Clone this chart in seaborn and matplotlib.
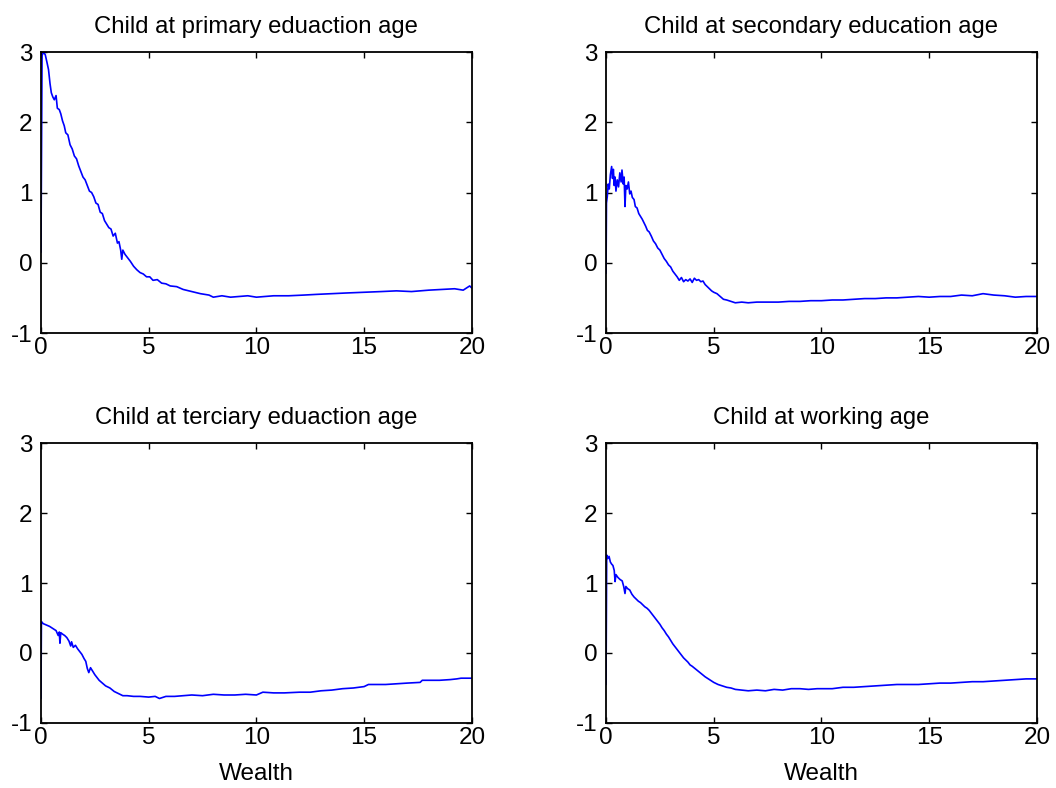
import pandas as pd
import seaborn as sns
import matplotlib
matplotlib.use("Agg")
import matplotlib.pyplot as plt


# values (wealth, policy value)
primary_x = [0.00, 0.05, 0.12, 0.20, 0.28, 0.35, 0.42, 0.48, 0.55, 0.62, 0.70, 0.76, 0.85, 0.92,
             1.00, 1.08, 1.15, 1.25, 1.35, 1.45, 1.55, 1.65, 1.75, 1.85, 1.95, 2.05, 2.15, 2.25,
             2.35, 2.45, 2.55, 2.65, 2.75, 2.85, 2.95, 3.05, 3.15, 3.25, 3.35, 3.45, 3.55, 3.62,
             3.70, 3.75, 3.80, 3.90, 4.00, 4.15, 4.30, 4.45, 4.60, 4.75, 4.90, 5.05, 5.20, 5.40,
             5.60, 5.80, 6.00, 6.30, 6.60, 7.00, 7.40, 7.80, 8.00, 8.40, 8.80, 9.20, 9.60, 10.00,
             10.40, 10.80, 11.50, 12.20, 12.80, 13.50, 14.20, 15.00, 15.80, 16.50, 17.20, 18.00,
             18.60, 19.20, 19.60, 19.90, 20.00]
primary_y = [0.15, 2.95, 3.00, 2.96, 2.85, 2.75, 2.55, 2.42, 2.36, 2.32, 2.38, 2.20, 2.18, 2.12,
             2.02, 1.95, 1.85, 1.82, 1.68, 1.62, 1.52, 1.48, 1.38, 1.30, 1.22, 1.18, 1.10, 1.02,
             1.00, 0.94, 0.85, 0.83, 0.72, 0.70, 0.60, 0.55, 0.50, 0.48, 0.38, 0.42, 0.28, 0.30,
             0.18, 0.05, 0.18, 0.12, 0.08, 0.02, -0.05, -0.10, -0.14, -0.16, -0.20, -0.20, -0.25, -0.24,
             -0.29, -0.30, -0.33, -0.34, -0.38, -0.41, -0.44, -0.46, -0.49, -0.47, -0.49, -0.48, -0.47, -0.49,
             -0.48, -0.47, -0.47, -0.46, -0.45, -0.44, -0.43, -0.42, -0.41, -0.40, -0.41, -0.39,
             -0.38, -0.37, -0.39, -0.33, -0.36]

secondary_x = [0.00, 0.02, 0.06, 0.10, 0.15, 0.20, 0.26, 0.30, 0.34, 0.38, 0.42, 0.46, 0.52, 0.58,
               0.64, 0.70, 0.74, 0.80, 0.84, 0.88, 0.92, 0.98, 1.04, 1.10, 1.16, 1.22, 1.30, 1.36,
               1.44, 1.52, 1.60, 1.68, 1.76, 1.84, 1.92, 2.00, 2.10, 2.20, 2.30, 2.40, 2.50, 2.60,
               2.70, 2.80, 2.90, 3.00, 3.10, 3.20, 3.30, 3.40, 3.50, 3.60, 3.70, 3.80, 3.90, 4.00,
               4.10, 4.20, 4.30, 4.40, 4.50, 4.60, 4.70, 4.80, 4.90, 5.00, 5.15, 5.30, 5.45, 5.60,
               5.80, 6.00, 6.30, 6.60, 7.00, 7.50, 8.00, 8.50, 9.00, 9.50, 10.00, 10.50, 11.00,
               11.50, 12.00, 12.50, 13.00, 13.50, 14.00, 14.50, 15.00, 15.50, 16.00, 16.50, 17.00,
               17.50, 18.00, 18.50, 19.00, 19.50, 20.00]
secondary_y = [-0.15, 0.85, 0.95, 1.12, 1.05, 1.25, 1.37, 1.20, 1.33, 1.10, 1.22, 1.02, 1.18, 1.08,
               1.28, 1.15, 1.32, 1.12, 1.22, 0.80, 1.10, 1.05, 1.15, 0.98, 1.02, 0.93, 0.90, 0.80,
               0.78, 0.70, 0.66, 0.62, 0.57, 0.52, 0.46, 0.44, 0.38, 0.31, 0.27, 0.21, 0.18, 0.12,
               0.06, 0.02, -0.03, -0.06, -0.12, -0.16, -0.20, -0.25, -0.21, -0.27, -0.24, -0.26, -0.23, -0.28,
               -0.22, -0.25, -0.24, -0.27, -0.26, -0.31, -0.34, -0.37, -0.40, -0.42, -0.44, -0.48, -0.52, -0.53,
               -0.55, -0.57, -0.56, -0.57, -0.56, -0.56, -0.56, -0.55, -0.55, -0.54, -0.54, -0.53, -0.53,
               -0.52, -0.51, -0.51, -0.50, -0.50, -0.49, -0.48, -0.49, -0.48, -0.48, -0.46, -0.47,
               -0.44, -0.46, -0.47, -0.49, -0.48, -0.48]

tertiary_x = [0.00, 0.02, 0.10, 0.25, 0.40, 0.55, 0.70, 0.80, 0.85, 0.88, 0.92, 1.00, 1.10, 1.20,
              1.30, 1.38, 1.42, 1.50, 1.60, 1.70, 1.80, 1.90, 2.00, 2.08, 2.15, 2.22, 2.30, 2.40,
              2.50, 2.60, 2.70, 2.85, 3.00, 3.20, 3.40, 3.60, 3.80, 4.00, 4.30, 4.60, 5.00, 5.30,
              5.50, 5.80, 6.20, 6.60, 7.00, 7.50, 8.00, 8.50, 9.00, 9.50, 10.00, 10.30, 10.80,
              11.30, 12.00, 12.50, 13.00, 13.50, 14.00, 14.50, 15.00, 15.20, 16.00, 16.50, 17.00,
              17.60, 17.70, 18.50, 19.00, 19.30, 19.50, 20.00]
tertiary_y = [-0.65, 0.45, 0.42, 0.40, 0.38, 0.35, 0.32, 0.25, 0.30, 0.14, 0.29, 0.27, 0.25, 0.22,
              0.17, 0.10, 0.16, 0.08, 0.11, 0.06, 0.02, -0.02, -0.08, -0.12, -0.22, -0.28, -0.21, -0.26,
              -0.31, -0.35, -0.39, -0.43, -0.47, -0.50, -0.55, -0.58, -0.61, -0.61, -0.62, -0.62, -0.63, -0.62,
              -0.65, -0.62, -0.62, -0.61, -0.60, -0.61, -0.59, -0.60, -0.60, -0.59, -0.60, -0.56, -0.57,
              -0.57, -0.56, -0.56, -0.54, -0.53, -0.51, -0.50, -0.48, -0.45, -0.45, -0.44, -0.43,
              -0.42, -0.39, -0.39, -0.38, -0.37, -0.36, -0.36]

working_x = [0.00, 0.03, 0.08, 0.14, 0.20, 0.26, 0.32, 0.38, 0.42, 0.46, 0.55, 0.65, 0.75, 0.82,
             0.88, 0.92, 1.00, 1.10, 1.20, 1.30, 1.40, 1.50, 1.60, 1.70, 1.80, 1.90, 2.00, 2.10,
             2.20, 2.30, 2.40, 2.50, 2.60, 2.70, 2.80, 2.90, 3.00, 3.10, 3.20, 3.30, 3.40, 3.50,
             3.60, 3.70, 3.80, 3.90, 4.00, 4.20, 4.40, 4.60, 4.80, 5.00, 5.20, 5.40, 5.60, 5.80,
             6.00, 6.30, 6.60, 7.00, 7.40, 7.80, 8.20, 8.60, 9.00, 9.40, 9.80, 10.50, 11.00, 11.50,
             12.00, 12.50, 13.00, 13.50, 14.00, 14.50, 15.00, 15.50, 16.00, 16.50, 17.00, 17.50,
             18.00, 18.50, 19.00, 19.50, 20.00]
working_y = [-0.45, 1.40, 1.35, 1.38, 1.30, 1.27, 1.25, 1.18, 1.02, 1.12, 1.08, 1.05, 1.03, 0.95,
             0.85, 0.95, 0.92, 0.90, 0.84, 0.80, 0.77, 0.74, 0.72, 0.69, 0.66, 0.64, 0.61, 0.57,
             0.53, 0.49, 0.45, 0.41, 0.36, 0.32, 0.27, 0.23, 0.18, 0.13, 0.09, 0.05, 0.01, -0.03,
             -0.07, -0.10, -0.13, -0.17, -0.19, -0.24, -0.29, -0.34, -0.38, -0.42, -0.45, -0.47, -0.49, -0.50,
             -0.52, -0.53, -0.54, -0.53, -0.54, -0.52, -0.53, -0.51, -0.51, -0.52, -0.51, -0.51, -0.49, -0.49,
             -0.48, -0.47, -0.46, -0.45, -0.45, -0.45, -0.44, -0.43, -0.43, -0.42, -0.41, -0.41,
             -0.40, -0.39, -0.38, -0.37, -0.37]

titles = ["Child at primary eduaction age", "Child at secondary education age",
          "Child at terciary eduaction age", "Child at working age"]
xticks = [0, 5, 10, 15, 20]
yticks = [-1, 0, 1, 2, 3]


sns.set_theme(style="white")
plt.rcParams['font.family'] = ["Liberation Sans", "DejaVu Sans"]
plt.rcParams['axes.unicode_minus'] = False
plt.rcParams['text.color'] = "black"
plt.rcParams['axes.labelcolor'] = "black"

fig = plt.figure(figsize=(10.56, 7.88), dpi=100)

boxes = [(0.0388, 0.5774, 0.408, 0.3566), (0.5739, 0.5774, 0.408, 0.3566),
         (0.0388, 0.0825, 0.408, 0.3553), (0.5739, 0.0825, 0.408, 0.3553)]
series = [(primary_x, primary_y), (secondary_x, secondary_y),
          (tertiary_x, tertiary_y), (working_x, working_y)]

for i, (box, (xs, ys), title) in enumerate(zip(boxes, series, titles)):
    ax = fig.add_axes(box)
    df = pd.DataFrame({"wealth": xs, "value": ys})
    sns.lineplot(data=df, x="wealth", y="value", ax=ax, color="#0000ff",
                 linewidth=1.2, estimator=None, sort=False)
    ax.set_xlim(0, 20)
    ax.set_ylim(-1, 3)
    ax.set_xticks(xticks)
    ax.set_yticks(yticks)
    ax.tick_params(direction="in", length=4, width=1.0, labelsize=17.5,
                   top=True, right=True, bottom=True, left=True, colors="black")
    ax.tick_params(axis="y", pad=6)
    ax.tick_params(axis="x", pad=3)
    for s in ax.spines.values():
        s.set_linewidth(1.3)
        s.set_color("black")
    ax.set_title(title, fontsize=17.2, pad=14, color="black")
    ax.set_ylabel("")
    if i >= 2:
        ax.set_xlabel("Wealth", fontsize=17.5, labelpad=10)
    else:
        ax.set_xlabel("")

plt.savefig("out.png", dpi=100)
